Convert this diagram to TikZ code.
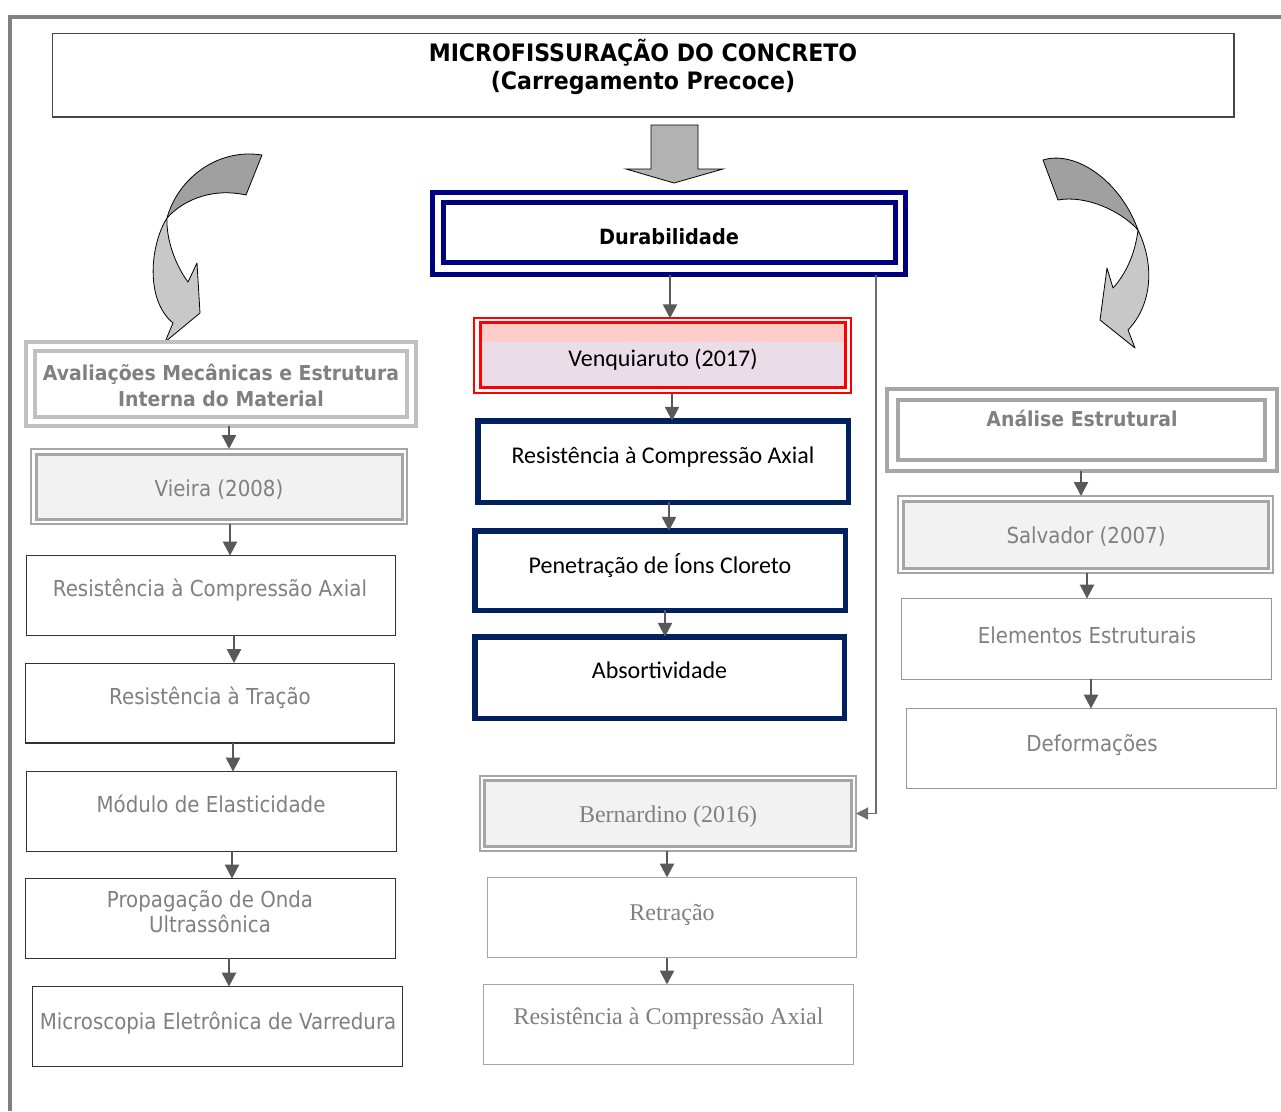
\documentclass[tikz,border=0pt]{standalone}
\usepackage{fontspec}
\usetikzlibrary{arrows.meta}
\newfontfamily\tahfont[FakeStretch=0.9]{DejaVu Sans}
\newfontfamily\tahbold[FakeStretch=0.92]{DejaVu Sans}
\newfontfamily\calfont{Carlito}
\newfontfamily\tmsfont{Liberation Serif}

\definecolor{frameg}{RGB}{128,128,128}
\definecolor{txtg}{RGB}{128,128,128}
\definecolor{arrg}{RGB}{89,89,89}
\definecolor{elbg}{RGB}{110,110,110}
\definecolor{navyA}{RGB}{0,0,128}
\definecolor{navyB}{RGB}{0,32,96}
\definecolor{dblg}{RGB}{166,166,166}
\definecolor{lightg}{RGB}{192,192,192}
\definecolor{fillg}{RGB}{242,242,242}
\definecolor{pinkband}{RGB}{255,204,204}
\definecolor{lavender}{RGB}{234,221,232}
\definecolor{redline}{RGB}{255,0,0}
\definecolor{darkbar}{RGB}{160,160,160}
\definecolor{lightbar}{RGB}{200,200,200}
\definecolor{blockg}{RGB}{179,179,179}
\definecolor{plainl}{RGB}{50,50,50}
\definecolor{plainr}{RGB}{150,150,150}
\definecolor{titleb}{RGB}{70,70,70}

\begin{document}
\begin{tikzpicture}[x=1pt,y=-1pt,
  box/.style 2 args={shape=rectangle, inner sep=0pt, outer sep=0pt,
    minimum width=#1pt, minimum height=#2pt},
  plainleft/.style={draw=plainl, line width=1.2pt, fill=white},
  plainright/.style={draw=plainr, line width=1.2pt, fill=white},
  plainmid/.style={draw=dblg, line width=1.2pt, fill=white},
  navybox/.style={draw=navyB, line width=5.5pt, fill=white},
  dblouter/.style={draw=dblg, line width=2pt, fill=white},
  dblinner/.style={draw=dblg, line width=3pt, fill=fillg},
  sanstxt/.style={font=\tahfont\fontsize{22}{26}\selectfont, text=txtg, inner sep=0pt, anchor=base},
  boldtxt/.style={font=\tahbold\bfseries\fontsize{20.5}{24}\selectfont, inner sep=0pt, anchor=base},
  titletxt/.style={font=\tahbold\bfseries\fontsize{24}{28}\selectfont, text=black, inner sep=0pt, anchor=base},
  caltxt/.style={font=\calfont\fontsize{24}{28}\selectfont, text=black, inner sep=0pt, anchor=base},
  sertxt/.style={font=\tmsfont\fontsize{24}{28}\selectfont, text=txtg, inner sep=0pt, anchor=base},
  conn/.style={draw=arrg, line width=2.5pt, -{Triangle[width=14pt,length=14pt]}},
  elbow/.style={draw=elbg, line width=1.3pt, -{Triangle[width=12pt,length=12pt]}},
  bandarrow/.style={draw=black, line width=0.8pt, line join=round}
]
\useasboundingbox (0,0) rectangle (1281,1111);

% outer frame
\draw[frameg, line width=4pt] (10,1111) -- (10,17) -- (1281,17);

% title
\node[box={1181.5}{83.5}, draw=titleb, line width=1.5pt] (title) at (643,75.25) {};
\node[titletxt] (t1) at (643,61.5) {MICROFISSURAÇÃO DO CONCRETO};
\node[titletxt] (t2) at (643,89.5) {(Carregamento Precoce)};

% block arrow below the title
\filldraw[fill=blockg, draw=black, line width=0.8pt]
  (651,125) -- (698,125) -- (698,169) -- (723,169) -- (674,183) -- (626,169) -- (651,169) -- cycle;

% curved arrow, left
\filldraw[bandarrow, fill=darkbar]
  (167,218) .. controls (178,178) and (218,148) .. (262,155) -- (246,195)
  .. controls (215,188) and (185,198) .. (167,218) -- cycle;
\filldraw[bandarrow, fill=lightbar]
  (167,218) .. controls (150,245) and (145,300) .. (173,323) -- (165,342) -- (200,313)
  -- (197,263) -- (188,282) .. controls (176,266) and (166,240) .. (167,218) -- cycle;

% curved arrow, right
\filldraw[bandarrow, fill=darkbar]
  (1043,160) .. controls (1075,150) and (1120,180) .. (1138,230)
  .. controls (1120,210) and (1085,195) .. (1058,200) -- cycle;
\filldraw[bandarrow, fill=lightbar]
  (1138,230) .. controls (1155,265) and (1152,305) .. (1128,330) -- (1135,348) -- (1100,320)
  -- (1107,268) -- (1113,288) .. controls (1125,275) and (1135,255) .. (1138,230) -- cycle;

% ---------- middle column ----------
\node[box={473}{82}, draw=navyA, line width=5pt, fill=white] (dura) at (669,233.5) {};
\draw[navyA, line width=5pt] ([xshift=11pt,yshift=-10pt]dura.north west) rectangle ([xshift=-10pt,yshift=12pt]dura.south east);
\node[boldtxt, font=\tahbold\bfseries\fontsize{21}{24}\selectfont, text=black] (durat) at (669,244) {Durabilidade};

\node[box={377}{75}, draw=redline, line width=2pt, fill=white] (venq) at (662.75,355.75) {};
\fill[lavender] ([xshift=6.5pt,yshift=-4.25pt]venq.north west) rectangle ([xshift=-5.75pt,yshift=5.75pt]venq.south east);
\fill[pinkband] ([xshift=6.5pt,yshift=-4.25pt]venq.north west) rectangle ([xshift=-5.75pt,yshift=-24pt]venq.north east);
\draw[redline, line width=3pt] ([xshift=6.5pt,yshift=-4.25pt]venq.north west) rectangle ([xshift=-5.75pt,yshift=5.75pt]venq.south east);
\node[caltxt] (venqt) at (663,366) {Venquiaruto (2017)};

\node[box={370.5}{81.5}, navybox] (res) at (663,461.5) {};
\node[caltxt] (rest) at (663,463) {Resistência à Compressão Axial};
\node[box={370.5}{79.5}, navybox] (pen) at (660,570.5) {};
\node[caltxt] (pent) at (660,573) {Penetração de Íons Cloreto};
\node[box={369.5}{81.5}, navybox] (abs) at (659.5,677.5) {};
\node[caltxt] (abst) at (659.5,678) {Absortividade};

\node[box={376}{75}, dblouter] (bern) at (668,813.5) {};
\draw[dblinner] ([xshift=4.5pt,yshift=-4.5pt]bern.north west) rectangle ([xshift=-4.5pt,yshift=4.5pt]bern.south east);
\node[sertxt] (bernt) at (668,822) {Bernardino (2016)};

\node[box={369}{80}, plainmid] (ret) at (672,917.5) {};
\node[sertxt] (rett) at (672,920) {Retração};
\node[box={370}{80}, plainmid] (rca) at (668.5,1024.5) {};
\node[sertxt] (rcat) at (668.5,1024) {Resistência à Compressão Axial};

% ---------- left column ----------
\node[box={390}{84}, draw=lightg, line width=4pt, fill=white] (ava) at (221,384) {};
\draw[lightg, line width=4pt] ([xshift=9pt,yshift=-9pt]ava.north west) rectangle ([xshift=-9pt,yshift=9pt]ava.south east);
\node[boldtxt, text=txtg] (avat1) at (221,380) {Avaliações Mecânicas e Estrutura};
\node[boldtxt, text=txtg] (avat2) at (221,406) {Interna do Material};

\node[box={376}{75}, dblouter] (vie) at (219,486.5) {};
\draw[dblinner] ([xshift=5pt,yshift=-5pt]vie.north west) rectangle ([xshift=-5pt,yshift=5pt]vie.south east);
\node[sanstxt] (viet) at (219,496) {Vieira (2008)};

\node[box={368.8}{79.8}, plainleft] (lrc) at (211,595.5) {};
\node[sanstxt] (lrct) at (210,596) {Resistência à Compressão Axial};
\node[box={368.8}{79.8}, plainleft] (ltr) at (210,703) {};
\node[sanstxt] (ltrt) at (210,704) {Resistência à Tração};
\node[box={369.8}{79.8}, plainleft] (lmod) at (211.5,811.5) {};
\node[sanstxt] (lmodt) at (211,812) {Módulo de Elasticidade};
\node[box={369.8}{79.8}, plainleft] (lprop) at (210.5,918.5) {};
\node[sanstxt] (lpropt1) at (210,907) {Propagação de Onda};
\node[sanstxt] (lpropt2) at (210,932) {Ultrassônica};
\node[box={369.8}{79.8}, plainleft] (lmic) at (217.5,1026.5) {};
\node[sanstxt] (lmict) at (218,1029) {Microscopia Eletrônica de Varredura};

% ---------- right column ----------
\node[box={390}{82}, draw=dblg, line width=4pt, fill=white] (ana) at (1082,430) {};
\draw[dblg, line width=4pt] ([xshift=11pt,yshift=-11pt]ana.north west) rectangle ([xshift=-12pt,yshift=11pt]ana.south east);
\node[boldtxt, text=txtg] (anat) at (1082,426) {Análise Estrutural};

\node[box={375}{77}, dblouter] (sal) at (1085.5,534.5) {};
\draw[dblinner] ([xshift=5pt,yshift=-5pt]sal.north west) rectangle ([xshift=-5pt,yshift=5pt]sal.south east);
\node[sanstxt] (salt) at (1086,543) {Salvador (2007)};

\node[box={369.8}{80.8}, plainright] (ele) at (1086.5,639) {};
\node[sanstxt] (elet) at (1087,643) {Elementos Estruturais};
\node[box={369.8}{79.8}, plainright] (def) at (1091.5,748.5) {};
\node[sanstxt] (deft) at (1092,751) {Deformações};

% ---------- connectors ----------
\draw[conn] ([xshift=1pt]dura.south) -- ([xshift=1pt]dura.south |- venq.north);
\draw[conn] ([xshift=9.25pt]venq.south) -- ([xshift=9.25pt]venq.south |- res.north);
\draw[conn] ([xshift=6pt]res.south) -- ([xshift=6pt]res.south |- pen.north);
\draw[conn] ([xshift=5pt]pen.south) -- ([xshift=5pt]pen.south |- abs.north);
\draw[elbow] ([xshift=-29.5pt]dura.south east) |- (bern.east);
\draw[conn] ([xshift=-1pt]bern.south) -- ([xshift=-1pt]bern.south |- ret.north);
\draw[conn] ([xshift=-5pt]ret.south) -- ([xshift=-5pt]ret.south |- rca.north);

\draw[conn] ([xshift=8pt]ava.south) -- ([xshift=8pt]ava.south |- vie.north);
\draw[conn] ([xshift=11pt]vie.south) -- ([xshift=11pt]vie.south |- lrc.north);
\draw[conn] ([xshift=23pt]lrc.south) -- ([xshift=23pt]lrc.south |- ltr.north);
\draw[conn] ([xshift=23pt]ltr.south) -- ([xshift=23pt]ltr.south |- lmod.north);
\draw[conn] ([xshift=20.5pt]lmod.south) -- ([xshift=20.5pt]lmod.south |- lprop.north);
\draw[conn] ([xshift=18.5pt]lprop.south) -- ([xshift=18.5pt]lprop.south |- lmic.north);

\draw[conn] ([xshift=-1pt]ana.south) -- ([xshift=-1pt]ana.south |- sal.north);
\draw[conn] ([xshift=1.5pt]sal.south) -- ([xshift=1.5pt]sal.south |- ele.north);
\draw[conn] ([xshift=4.5pt]ele.south) -- ([xshift=4.5pt]ele.south |- def.north);
\end{tikzpicture}
\end{document}
